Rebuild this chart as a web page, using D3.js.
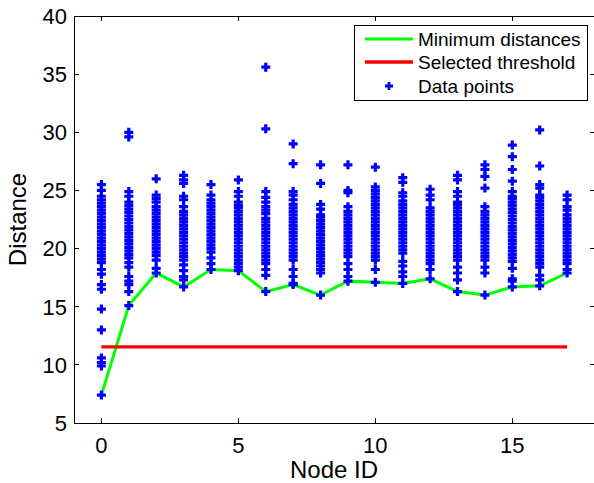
<html>
  <head>
    <style>
      body { margin: 0; background: #fff; }
      text { font-family: "Liberation Sans", Arial, sans-serif; fill: #000; }
    </style>
  </head>
  <body>
    <script src="https://d3js.org/d3.v7.min.js"></script>
    <script>
    var width = 594, height = 483;

    // node ids and the distances measured at each node
    var nodeIds = d3.range(0, 18);
    var distances = [
      [7.4, 9.9, 10.2, 10.6, 13.0, 14.8, 16.5, 16.9, 17.8, 18.2, 18.8, 19.1, 19.4, 19.7, 20.0, 20.3, 20.6, 20.9, 21.2, 21.5, 21.8, 22.1, 22.4, 22.7, 23.0, 23.3, 23.6, 23.9, 24.2, 24.5, 25.0, 25.5],
      [15.1, 16.3, 16.9, 17.2, 17.6, 18.4, 18.8, 19.2, 19.5, 19.8, 20.1, 20.4, 20.7, 21.0, 21.3, 21.6, 21.9, 22.2, 22.5, 22.8, 23.1, 23.4, 23.7, 24.0, 24.5, 24.9, 29.6, 30.0],
      [17.9, 18.3, 19.0, 19.4, 19.7, 20.0, 20.3, 20.6, 20.9, 21.2, 21.5, 21.8, 22.1, 22.4, 22.7, 23.0, 23.3, 23.6, 24.0, 24.3, 24.6, 26.0],
      [16.7, 17.3, 17.6, 18.1, 18.6, 19.0, 19.3, 19.6, 19.9, 20.2, 20.5, 20.8, 21.1, 21.4, 21.7, 22.0, 22.3, 22.6, 22.9, 23.2, 23.6, 24.2, 24.5, 25.6, 25.9, 26.3],
      [18.2, 18.7, 19.2, 19.7, 20.0, 20.3, 20.6, 20.9, 21.2, 21.5, 21.8, 22.1, 22.4, 22.7, 23.0, 23.3, 23.6, 23.9, 24.2, 24.6, 25.5],
      [18.1, 18.4, 18.7, 19.0, 19.3, 19.6, 19.9, 20.2, 20.5, 20.8, 21.1, 21.4, 21.7, 22.0, 22.3, 22.6, 22.9, 23.2, 23.5, 23.7, 24.0, 24.5, 24.9, 25.9],
      [16.3, 17.7, 18.2, 18.7, 19.0, 19.3, 19.6, 19.9, 20.2, 20.5, 20.8, 21.1, 21.4, 21.7, 22.0, 22.3, 22.6, 23.0, 23.3, 23.6, 24.0, 24.4, 24.9, 30.3, 35.6],
      [16.9, 17.0, 17.6, 18.2, 19.0, 19.3, 19.6, 19.9, 20.2, 20.5, 20.8, 21.1, 21.4, 21.7, 22.0, 22.3, 22.6, 22.9, 23.2, 23.5, 23.8, 24.2, 24.6, 24.9, 27.3, 29.0],
      [16.0, 17.9, 18.2, 18.5, 18.8, 19.1, 19.4, 19.7, 20.0, 20.3, 20.6, 20.9, 21.2, 21.5, 21.8, 22.1, 22.4, 22.7, 22.9, 23.4, 23.8, 25.6, 27.2],
      [17.2, 17.6, 18.2, 18.7, 19.3, 19.6, 19.9, 20.2, 20.5, 20.8, 21.1, 21.4, 21.7, 22.0, 22.3, 22.6, 22.9, 23.2, 23.6, 24.8, 25.0, 27.2],
      [17.1, 18.2, 19.0, 19.3, 19.6, 19.9, 20.2, 20.5, 20.8, 21.1, 21.4, 21.7, 22.0, 22.3, 22.6, 22.9, 23.2, 23.5, 23.8, 24.1, 24.4, 24.7, 25.0, 25.3, 27.0],
      [17.0, 17.6, 18.0, 18.5, 18.9, 19.6, 19.9, 20.2, 20.5, 20.8, 21.1, 21.4, 21.7, 22.0, 22.3, 22.6, 22.9, 23.2, 23.5, 23.8, 24.1, 24.5, 24.8, 25.7, 26.1],
      [17.4, 18.2, 18.7, 19.0, 19.3, 19.6, 19.9, 20.2, 20.5, 20.8, 21.1, 21.4, 21.7, 22.0, 22.3, 22.6, 22.9, 23.2, 23.5, 24.2, 24.6, 25.1],
      [16.3, 17.3, 17.9, 18.4, 19.0, 19.3, 19.6, 19.9, 20.2, 20.5, 20.8, 21.1, 21.4, 21.7, 22.0, 22.3, 22.6, 22.9, 23.2, 23.5, 23.8, 24.0, 24.5, 24.9, 25.9, 26.3],
      [16.0, 17.9, 18.4, 19.0, 19.3, 19.6, 19.9, 20.2, 20.5, 20.8, 21.1, 21.4, 21.7, 22.0, 22.3, 22.6, 22.9, 23.2, 23.6, 25.2, 26.2, 26.8, 27.2],
      [16.7, 17.2, 17.4, 18.3, 18.9, 19.2, 19.5, 19.8, 20.1, 20.4, 20.7, 21.0, 21.3, 21.6, 21.9, 22.2, 22.5, 22.8, 23.1, 23.4, 23.7, 24.0, 24.3, 24.5, 24.9, 25.8, 26.8, 27.9, 28.9],
      [16.8, 17.3, 17.7, 18.4, 18.7, 19.0, 19.3, 19.6, 19.9, 20.2, 20.5, 20.8, 21.1, 21.4, 21.7, 22.0, 22.3, 22.6, 22.9, 23.2, 23.5, 23.8, 24.1, 24.4, 24.6, 25.2, 25.5, 27.1, 30.2],
      [17.9, 18.2, 18.7, 19.0, 19.3, 19.6, 19.9, 20.2, 20.5, 20.8, 21.1, 21.4, 21.7, 22.0, 22.3, 22.6, 22.9, 23.3, 23.6, 24.2, 24.6]
    ];
    var threshold = 11.55;
    var xTicks = [0, 5, 10, 15];
    var yTicks = [5, 10, 15, 20, 25, 30, 35, 40];
    var legendLabels = ["Minimum distances", "Selected threshold", "Data points"];

    var svg = d3.select("body")
        .append("svg")
        .attr("width", width)
        .attr("height", height);

    var x = d3.scaleLinear().domain([-1, 18]).range([74, 594.5]);
    var y = d3.scaleLinear().domain([5, 40]).range([423, 16]);

    // flatten to points
    var points = [];
    distances.forEach(function(col, i) {
      col.forEach(function(v) { points.push({ id: nodeIds[i], v: v }); });
    });
    var minima = distances.map(function(col, i) { return { id: nodeIds[i], v: d3.min(col) }; });

    // minimum distances line
    svg.append("path")
        .datum(minima)
        .attr("fill", "none")
        .attr("stroke", "#00ff00")
        .attr("stroke-width", 3)
        .attr("d", d3.line().x(function(d){ return x(d.id); }).y(function(d){ return y(d.v); }));

    // threshold line
    svg.append("line")
        .attr("x1", x(0)).attr("x2", x(17))
        .attr("y1", y(threshold)).attr("y2", y(threshold))
        .attr("stroke", "#ff0000")
        .attr("stroke-width", 3.3);

    function plus(cx, cy, r) {
      return "M" + (cx - r) + "," + cy + "H" + (cx + r) + "M" + cx + "," + (cy - r) + "V" + (cy + r);
    }

    svg.append("g")
      .selectAll("path")
      .data(points)
      .enter().append("path")
        .attr("d", function(d){ return plus(x(d.id), y(d.v), 4.5); })
        .attr("stroke", "#0000ff")
        .attr("stroke-width", 3.2)
        .attr("fill", "none");

    // axes box with inward ticks
    var ax = svg.append("g").attr("stroke", "#000").attr("stroke-width", 1).attr("shape-rendering", "crispEdges");
    ax.append("rect")
        .attr("x", x(-1)).attr("y", y(40))
        .attr("width", x(18) - x(-1)).attr("height", y(5) - y(40))
        .attr("fill", "none");
    xTicks.forEach(function(t) {
      ax.append("line").attr("x1", x(t)).attr("x2", x(t)).attr("y1", y(5)).attr("y2", y(5) - 5);
      ax.append("line").attr("x1", x(t)).attr("x2", x(t)).attr("y1", y(40)).attr("y2", y(40) + 5);
    });
    yTicks.forEach(function(t) {
      ax.append("line").attr("x1", x(-1)).attr("x2", x(-1) + 5).attr("y1", y(t)).attr("y2", y(t));
      ax.append("line").attr("x1", x(18)).attr("x2", x(18) - 5).attr("y1", y(t)).attr("y2", y(t));
    });

    svg.selectAll(".xt")
      .data(xTicks)
      .enter().append("text")
        .attr("x", function(d){ return x(d); })
        .attr("y", 452.5)
        .attr("text-anchor", "middle")
        .style("font-size", "22px")
        .text(function(d){ return d; });

    svg.selectAll(".yt")
      .data(yTicks)
      .enter().append("text")
        .attr("x", 67)
        .attr("y", function(d){ return y(d); })
        .attr("dy", "0.36em")
        .attr("text-anchor", "end")
        .style("font-size", "22px")
        .text(function(d){ return d; });

    svg.append("text")
       .attr("x", 334)
       .attr("y", 478)
       .attr("text-anchor", "middle")
       .style("font-size", "24px")
       .text("Node ID");

    svg.append("text")
       .attr("transform", "translate(26," + ((y(5) + y(40)) / 2) + ") rotate(-90)")
       .attr("text-anchor", "middle")
       .style("font-size", "24px")
       .text("Distance");

    // legend
    var lg = svg.append("g");
    lg.append("rect")
        .attr("x", 354.5).attr("y", 25.5).attr("width", 233).attr("height", 75)
        .attr("fill", "#fff").attr("stroke", "#000").attr("stroke-width", 1);
    var rows = [39, 62, 86];
    lg.append("line").attr("x1", 365).attr("x2", 413).attr("y1", rows[0]).attr("y2", rows[0])
        .attr("stroke", "#00ff00").attr("stroke-width", 3);
    lg.append("line").attr("x1", 365).attr("x2", 413).attr("y1", rows[1]).attr("y2", rows[1])
        .attr("stroke", "#ff0000").attr("stroke-width", 3.3);
    lg.append("path").attr("d", plus(389, rows[2], 4))
        .attr("stroke", "#0000ff").attr("stroke-width", 2.8);
    legendLabels.forEach(function(l, i) {
      lg.append("text")
        .attr("x", 418)
        .attr("y", rows[i])
        .attr("dy", "0.36em")
        .style("font-size", "19px")
        .text(l);
    });
    </script>
  </body>
</html>
